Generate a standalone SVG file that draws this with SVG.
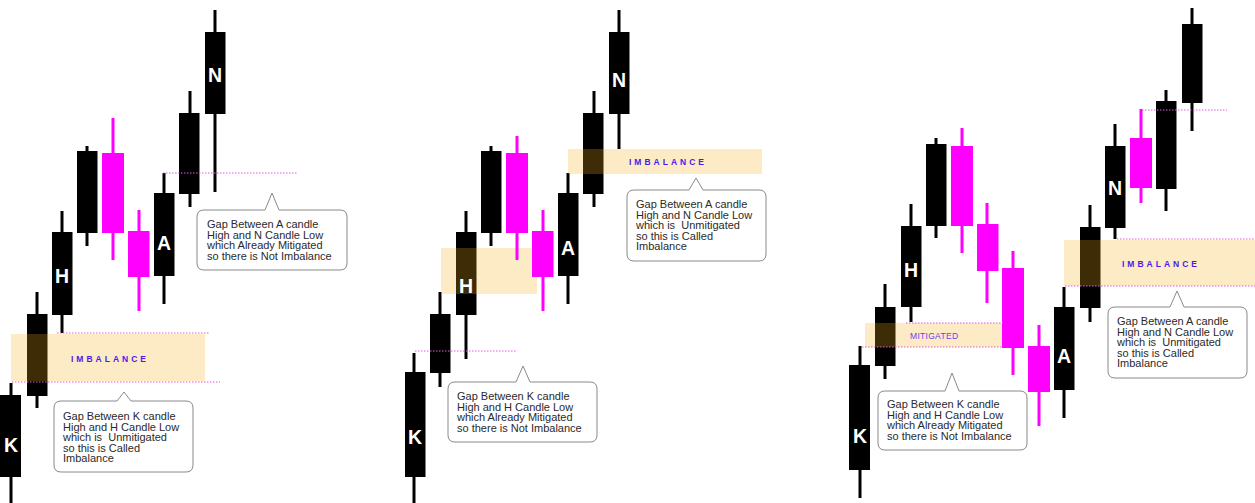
<svg xmlns="http://www.w3.org/2000/svg" width="1255" height="503" viewBox="0 0 1255 503">
<style>
.bk{fill:#000}
.mg{fill:#ff00ff}
.wk{stroke:#000;stroke-width:3}
.wm{stroke:#ff00ff;stroke-width:3}
.zone{fill:rgb(245,175,25);fill-opacity:0.25}
.dot{stroke:#e05ae0;stroke-width:1;stroke-dasharray:1.5 1.5;fill:none}
.lbl{font-family:"Liberation Sans",Arial,sans-serif;font-weight:bold;font-size:19.5px;fill:#fff;text-anchor:middle}
.imb{font-family:"Liberation Sans",Arial,sans-serif;font-weight:bold;font-size:8.5px;letter-spacing:3px;fill:#4a1af0}
.mit{font-family:"Liberation Sans",Arial,sans-serif;font-size:8.5px;letter-spacing:0.3px;fill:#6a40f0}
.call{fill:#fff;stroke:#8a8a8a;stroke-width:1}
.ct{font-family:"Liberation Sans",Arial,sans-serif;font-size:11px;fill:#2a2a2a;white-space:pre}
</style>
<rect width="1255" height="503" fill="#fff"/>

<!-- Panel 1 black candles -->
<g id="p1-K"><line class="wk" x1="11" y1="383" x2="11" y2="503"/><rect class="bk" x="0" y="395" width="21" height="82"/></g>
<g id="p1-c2"><line class="wk" x1="37" y1="292" x2="37" y2="408"/><rect class="bk" x="27" y="314" width="20.5" height="82"/></g>
<g id="p1-H"><line class="wk" x1="62" y1="211" x2="62" y2="333"/><rect class="bk" x="52" y="232" width="20.5" height="83"/></g>
<g id="p1-c4"><line class="wk" x1="87" y1="146" x2="87" y2="246"/><rect class="bk" x="77" y="151" width="20.5" height="82"/></g>
<g id="p1-A"><line class="wk" x1="164" y1="173" x2="164" y2="304"/><rect class="bk" x="154" y="193" width="20.5" height="83"/></g>
<g id="p1-c8"><line class="wk" x1="190" y1="91" x2="190" y2="207"/><rect class="bk" x="179" y="113" width="20.5" height="81"/></g>
<g id="p1-N"><line class="wk" x1="215" y1="10" x2="215" y2="192"/><rect class="bk" x="205" y="32" width="20.5" height="82"/></g>

<!-- Panel 2 black candles -->
<g id="p2-K"><line class="wk" x1="414" y1="353" x2="414" y2="503"/><rect class="bk" x="405" y="372" width="20.5" height="105"/></g>
<g id="p2-c2"><line class="wk" x1="440" y1="292" x2="440" y2="387"/><rect class="bk" x="430" y="314" width="20.5" height="59"/></g>
<g id="p2-H"><line class="wk" x1="466" y1="211" x2="466" y2="359"/><rect class="bk" x="456" y="232" width="20.5" height="83"/></g>
<g id="p2-c4"><line class="wk" x1="491" y1="146" x2="491" y2="246"/><rect class="bk" x="481" y="151" width="20.5" height="82"/></g>
<g id="p2-A"><line class="wk" x1="568" y1="173" x2="568" y2="304"/><rect class="bk" x="558" y="193" width="20.5" height="83"/></g>
<g id="p2-c8"><line class="wk" x1="594" y1="91" x2="594" y2="207"/><rect class="bk" x="583" y="113" width="20.5" height="81"/></g>
<g id="p2-N"><line class="wk" x1="619" y1="10" x2="619" y2="149"/><rect class="bk" x="609" y="32" width="20.5" height="82"/></g>

<!-- Panel 3 black candles -->
<g id="p3-K"><line class="wk" x1="860" y1="346" x2="860" y2="498"/><rect class="bk" x="849" y="365" width="21" height="105"/></g>
<g id="p3-c2"><line class="wk" x1="885" y1="284" x2="885" y2="379"/><rect class="bk" x="875" y="307" width="20.5" height="59"/></g>
<g id="p3-H"><line class="wk" x1="911" y1="204" x2="911" y2="322"/><rect class="bk" x="901" y="226" width="20.5" height="81"/></g>
<g id="p3-c4"><line class="wk" x1="936" y1="138" x2="936" y2="238"/><rect class="bk" x="926" y="144" width="20.5" height="82"/></g>
<g id="p3-A"><line class="wk" x1="1064" y1="287" x2="1064" y2="418"/><rect class="bk" x="1054" y="307" width="20.5" height="83"/></g>
<g id="p3-c10"><line class="wk" x1="1090" y1="205" x2="1090" y2="322"/><rect class="bk" x="1080" y="227" width="20.5" height="81"/></g>
<g id="p3-N"><line class="wk" x1="1115" y1="124" x2="1115" y2="239"/><rect class="bk" x="1105" y="146" width="20.5" height="82"/></g>
<g id="p3-c13"><line class="wk" x1="1166" y1="90" x2="1166" y2="211"/><rect class="bk" x="1156" y="101" width="20.5" height="88"/></g>
<g id="p3-c14"><line class="wk" x1="1192" y1="8" x2="1192" y2="131"/><rect class="bk" x="1182" y="24" width="20.5" height="79"/></g>

<!-- Zones -->
<g id="zones">
<rect id="p1-imbalance" class="zone" x="11" y="334" width="194" height="47"/>
<rect id="p2-imbalance" class="zone" x="568" y="149" width="194" height="25"/>
<rect id="p2-mitigated" class="zone" x="441" y="248" width="96" height="46"/>
<rect id="p3-imbalance" class="zone" x="1064" y="240" width="191" height="46"/>
<rect id="p3-mitigated" class="zone" x="865" y="323" width="138" height="24"/>
</g>

<!-- Magenta candles -->
<g id="p1-c5"><line class="wm" x1="113" y1="118" x2="113" y2="260"/><rect class="mg" x="102" y="153" width="22" height="80"/></g>
<g id="p1-c6"><line class="wm" x1="139" y1="210" x2="139" y2="311"/><rect class="mg" x="128" y="231" width="21.5" height="46"/></g>
<g id="p2-c5"><line class="wm" x1="517" y1="136" x2="517" y2="260"/><rect class="mg" x="506" y="153" width="22" height="80"/></g>
<g id="p2-c6"><line class="wm" x1="543" y1="210" x2="543" y2="311"/><rect class="mg" x="532" y="231" width="21.5" height="46"/></g>
<g id="p3-c5"><line class="wm" x1="962" y1="128" x2="962" y2="253"/><rect class="mg" x="951" y="146" width="22" height="80"/></g>
<g id="p3-c6"><line class="wm" x1="987" y1="203" x2="987" y2="303"/><rect class="mg" x="977" y="224" width="21.5" height="47"/></g>
<g id="p3-c7"><line class="wm" x1="1013" y1="251" x2="1013" y2="375"/><rect class="mg" x="1002" y="268" width="22" height="80"/></g>
<g id="p3-c8"><line class="wm" x1="1039" y1="325" x2="1039" y2="426"/><rect class="mg" x="1028" y="346" width="22" height="46"/></g>
<g id="p3-c12"><line class="wm" x1="1141" y1="109" x2="1141" y2="203"/><rect class="mg" x="1130" y="138" width="22" height="50"/></g>

<!-- Guide lines -->
<g id="connectors">
<line class="dot" x1="163" y1="173" x2="298" y2="173"/>
<line class="dot" x1="57" y1="333" x2="210" y2="333"/>
<line class="dot" x1="12" y1="382" x2="220" y2="382"/>
<line class="dot" x1="415" y1="351" x2="517" y2="351"/>
<line class="dot" x1="1142" y1="110" x2="1227" y2="110"/>
<line class="dot" x1="1117" y1="239" x2="1255" y2="239"/>
<line class="dot" x1="1065" y1="286" x2="1255" y2="286"/>
<line class="dot" x1="906" y1="323" x2="1003" y2="323"/>
<line class="dot" x1="862" y1="347" x2="1003" y2="347"/>
</g>

<!-- Candle labels -->
<g id="labels">
<text class="lbl" x="11" y="452">K</text>
<text class="lbl" x="62" y="283">H</text>
<text class="lbl" x="164" y="250">A</text>
<text class="lbl" x="215" y="82">N</text>
<text class="lbl" x="415" y="444">K</text>
<text class="lbl" x="466" y="293">H</text>
<text class="lbl" x="568" y="255">A</text>
<text class="lbl" x="619" y="87">N</text>
<text class="lbl" x="860" y="443">K</text>
<text class="lbl" x="911" y="277">H</text>
<text class="lbl" x="1064" y="363">A</text>
<text class="lbl" x="1115" y="195">N</text>
<text class="imb" x="71" y="362">IMBALANCE</text>
<text class="imb" x="629" y="165">IMBALANCE</text>
<text class="imb" x="1122" y="267">IMBALANCE</text>
<text class="mit" x="910" y="339">MITIGATED</text>
</g>

<!-- Callouts -->
<g id="p1-callout-K">
<path class="call" d="M61,401 H117 L124,392 L131,401 H186 Q193,401 193,408 V465 Q193,472 186,472 H61 Q54,472 54,465 V408 Q54,401 61,401 Z"/>
<text class="ct" x="63" y="420"><tspan x="63">Gap Between K candle</tspan><tspan x="63" dy="10.6">High and H Candle Low</tspan><tspan x="63" dy="10.6">which is  Unmitigated</tspan><tspan x="63" dy="10.6">so this is Called</tspan><tspan x="63" dy="10.6">Imbalance</tspan></text>
</g>
<g id="p1-callout-A">
<path class="call" d="M204,210 H265 L272,193 L279,210 H340 Q347,210 347,217 V263 Q347,270 340,270 H204 Q197,270 197,263 V217 Q197,210 204,210 Z"/>
<text class="ct" x="207" y="228"><tspan x="207">Gap Between A candle</tspan><tspan x="207" dy="10.6">High and N Candle Low</tspan><tspan x="207" dy="10.6">which Already Mitigated</tspan><tspan x="207" dy="10.6">so there is Not Imbalance</tspan></text>
</g>
<g id="p2-callout-K">
<path class="call" d="M455,382 H516 L523,366 L530,382 H590 Q597,382 597,389 V435 Q597,442 590,442 H455 Q448,442 448,435 V389 Q448,382 455,382 Z"/>
<text class="ct" x="457" y="400"><tspan x="457">Gap Between K candle</tspan><tspan x="457" dy="10.6">High and H Candle Low</tspan><tspan x="457" dy="10.6">which Already Mitigated</tspan><tspan x="457" dy="10.6">so there is Not Imbalance</tspan></text>
</g>
<g id="p2-callout-A">
<path class="call" d="M634,190 H689 L696,178 L703,190 H759 Q766,190 766,197 V254 Q766,261 759,261 H634 Q627,261 627,254 V197 Q627,190 634,190 Z"/>
<text class="ct" x="636" y="208"><tspan x="636">Gap Between A candle</tspan><tspan x="636" dy="10.6">High and N Candle Low</tspan><tspan x="636" dy="10.6">which is  Unmitigated</tspan><tspan x="636" dy="10.6">so this is Called</tspan><tspan x="636" dy="10.6">Imbalance</tspan></text>
</g>
<g id="p3-callout-K">
<path class="call" d="M885,391 H945 L952,373 L959,391 H1020 Q1027,391 1027,398 V443 Q1027,450 1020,450 H885 Q878,450 878,443 V398 Q878,391 885,391 Z"/>
<text class="ct" x="887" y="408"><tspan x="887">Gap Between K candle</tspan><tspan x="887" dy="10.6">High and H Candle Low</tspan><tspan x="887" dy="10.6">which Already Mitigated</tspan><tspan x="887" dy="10.6">so there is Not Imbalance</tspan></text>
</g>
<g id="p3-callout-A">
<path class="call" d="M1115,307 H1170 L1177,291 L1184,307 H1240 Q1247,307 1247,314 V371 Q1247,378 1240,378 H1115 Q1108,378 1108,371 V314 Q1108,307 1115,307 Z"/>
<text class="ct" x="1117" y="325"><tspan x="1117">Gap Between A candle</tspan><tspan x="1117" dy="10.6">High and N Candle Low</tspan><tspan x="1117" dy="10.6">which is  Unmitigated</tspan><tspan x="1117" dy="10.6">so this is Called</tspan><tspan x="1117" dy="10.6">Imbalance</tspan></text>
</g>
</svg>
